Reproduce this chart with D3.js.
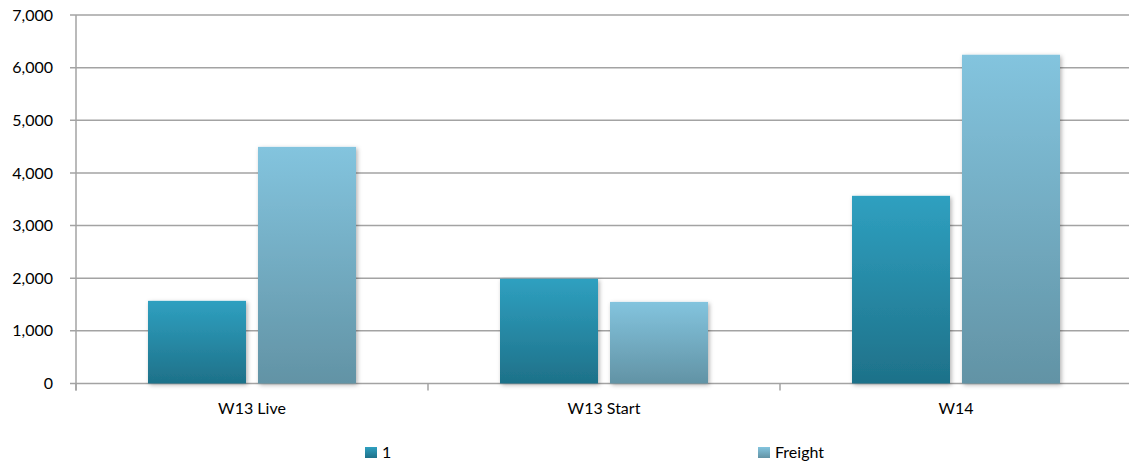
<!DOCTYPE html>
<html>
<head>
<meta charset="utf-8">
<script src="https://cdn.jsdelivr.net/npm/d3@7"></script>
<style>
  body { margin: 0; background: #fff; }
  text { font-family: Lato, "Open Sans", sans-serif; fill: #000; }
</style>
</head>
<body>
<svg id="chart" width="1129" height="464"></svg>
<script>
const categories = ["W13 Live", "W13 Start", "W14"];
const seriesNames = ["1", "Freight"];
const series1 = [1570, 1990, 3565];
const freight = [4495, 1550, 6245];
const yTicks = [0, 1000, 2000, 3000, 4000, 5000, 6000, 7000];

const w = 1129, h = 464;
const pLeft = 76, pRight = 1132, pTop = 15, pBottom = 383.5;

const svg = d3.select("#chart");
const defs = svg.append("defs");

// gradients like the office-style bars
const grads = [["g0", "#2fa0c0", "#1e7189"], ["g1", "#83c4de", "#6293a5"]];
grads.forEach(g => {
  const lg = defs.append("linearGradient").attr("id", g[0]).attr("x1", 0).attr("y1", 0).attr("x2", 0).attr("y2", 1);
  lg.append("stop").attr("offset", "0%").attr("stop-color", g[1]);
  lg.append("stop").attr("offset", "100%").attr("stop-color", g[2]);
});
const f = defs.append("filter").attr("id", "shadow").attr("x", "-20%").attr("y", "-20%").attr("width", "140%").attr("height", "140%");
f.append("feDropShadow").attr("dx", 1.5).attr("dy", 1.5).attr("stdDeviation", 2).attr("flood-color", "#000").attr("flood-opacity", 0.3);

const x = d3.scaleBand().domain(categories).range([pLeft, pRight]).paddingInner(0).paddingOuter(0);
const y = d3.scaleLinear().domain([0, 7000]).range([pBottom, pTop]);

// gridlines
svg.append("g").selectAll("line").data(yTicks).enter().append("line")
  .attr("x1", pLeft - 6).attr("x2", pRight)
  .attr("y1", d => y(d)).attr("y2", d => y(d))
  .attr("stroke", "#a3a3a3").attr("stroke-width", 1.5);

// y-axis line
svg.append("line").attr("x1", pLeft).attr("x2", pLeft).attr("y1", pTop).attr("y2", pBottom + 7)
  .attr("stroke", "#a3a3a3").attr("stroke-width", 1.5);

// y labels
svg.append("g").selectAll("text").data(yTicks).enter().append("text")
  .attr("x", 53).attr("y", d => y(d)).attr("dy", "0.35em")
  .attr("text-anchor", "end").style("font-size", "16px")
  .text(d => d3.format(",")(d));

// x category ticks
const bounds = categories.map(c => x(c)).concat([pRight]);
svg.append("g").selectAll("line").data(bounds).enter().append("line")
  .attr("x1", d => d).attr("x2", d => d).attr("y1", pBottom).attr("y2", pBottom + 7)
  .attr("stroke", "#a3a3a3").attr("stroke-width", 1.5);

svg.append("g").selectAll("text").data(categories).enter().append("text")
  .attr("x", d => x(d) + x.bandwidth() / 2).attr("y", 414)
  .attr("text-anchor", "middle").style("font-size", "16px")
  .text(d => d);

// bars
const barW = 98, gap = 12;
const inner = d3.scaleBand().domain([0, 1]).range([0, barW * 2 + gap]).paddingInner(gap / (barW + gap));
const offset = (x.bandwidth() - (barW * 2 + gap)) / 2;
[series1, freight].forEach((vals, si) => {
  svg.append("g").selectAll("rect").data(vals).enter().append("rect")
    .attr("x", (d, i) => x(categories[i]) + offset + inner(si))
    .attr("y", d => y(d))
    .attr("width", inner.bandwidth())
    .attr("height", d => pBottom - y(d))
    .attr("fill", `url(#g${si})`)
    .attr("filter", "url(#shadow)");
});

// legend
const legendX = [365, 758];
seriesNames.forEach((n, i) => {
  svg.append("rect").attr("x", legendX[i]).attr("y", 447).attr("width", 12).attr("height", 11)
    .attr("fill", `url(#g${i})`);
  svg.append("text").attr("x", legendX[i] + 17).attr("y", 452.5).attr("dy", "0.35em")
    .style("font-size", "16px").text(n);
});
</script>
</body>
</html>
